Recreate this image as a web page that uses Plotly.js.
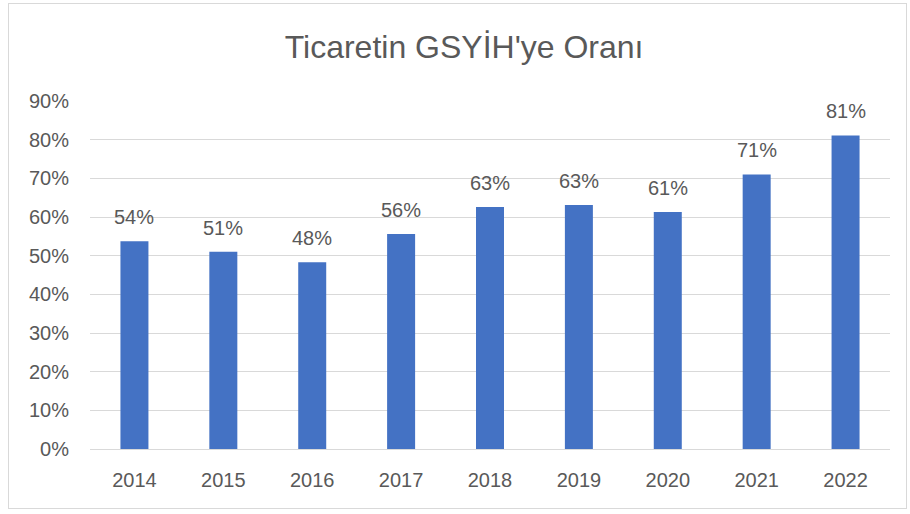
<!DOCTYPE html>
<html>
<head>
<meta charset="utf-8">
<script src="https://cdn.plot.ly/plotly-3.0.1.min.js"></script>
<style>
  html, body { margin: 0; padding: 0; background: #ffffff; }
  #frame { position: absolute; left: 8px; top: 3px; width: 899px; height: 506px; border: 1px solid #d9d9d9; box-sizing: border-box; }
  #chart { position: absolute; left: 0; top: 0; width: 910px; height: 514px; }
</style>
</head>
<body>
<div id="frame"></div>
<div id="chart"></div>
<script>
const years = ['2014', '2015', '2016', '2017', '2018', '2019', '2020', '2021', '2022'];
const ratio = [0.537, 0.510, 0.483, 0.556, 0.626, 0.631, 0.613, 0.710, 0.811];
const yTicks = [0, 0.1, 0.2, 0.3, 0.4, 0.5, 0.6, 0.7, 0.8, 0.9];
const yTickLabels = ['0%', '10%', '20%', '30%', '40%', '50%', '60%', '70%', '80%', '90%'];

const textColor = '#595959';
const fontFamily = '"Liberation Sans", Arial, sans-serif';

const trace = {
  type: 'bar',
  x: years,
  y: ratio,
  marker: { color: '#4472c4' },
  hoverinfo: 'skip'
};

const annotations = years.map((yr, i) => ({
  x: i,
  y: ratio[i],
  xref: 'x',
  yref: 'y',
  text: Math.round(ratio[i] * 100) + '%',
  showarrow: false,
  yanchor: 'bottom',
  yshift: 11,
  font: { family: fontFamily, size: 20, color: textColor }
}));

const layout = {
  width: 910,
  height: 514,
  paper_bgcolor: 'rgba(0,0,0,0)',
  plot_bgcolor: 'rgba(0,0,0,0)',
  margin: { l: 89.5, r: 19.5, t: 100.7, b: 64.5 },
  bargap: 0.685,
  showlegend: false,
  title: {
    text: "Ticaretin GSYİH'ye Oranı",
    x: 0.51,
    xanchor: 'center',
    y: 0.908,
    yanchor: 'middle',
    font: { family: fontFamily, size: 32, color: textColor }
  },
  xaxis: {
    type: 'category',
    range: [-0.5, years.length - 0.5],
    showgrid: false,
    showline: false,
    ticks: '',
    ticklabelstandoff: 17,
    tickfont: { family: fontFamily, size: 20, color: textColor }
  },
  yaxis: {
    range: [0, 0.9],
    tickvals: yTicks,
    ticktext: yTickLabels,
    showgrid: true,
    gridcolor: '#d9d9d9',
    gridwidth: 1,
    zeroline: true,
    zerolinecolor: '#d9d9d9',
    zerolinewidth: 1,
    showline: false,
    ticks: '',
    ticklabelstandoff: 20,
    tickfont: { family: fontFamily, size: 20, color: textColor }
  },
  annotations: annotations
};

Plotly.newPlot('chart', [trace], layout, { displayModeBar: false, staticPlot: true });
</script>
</body>
</html>
